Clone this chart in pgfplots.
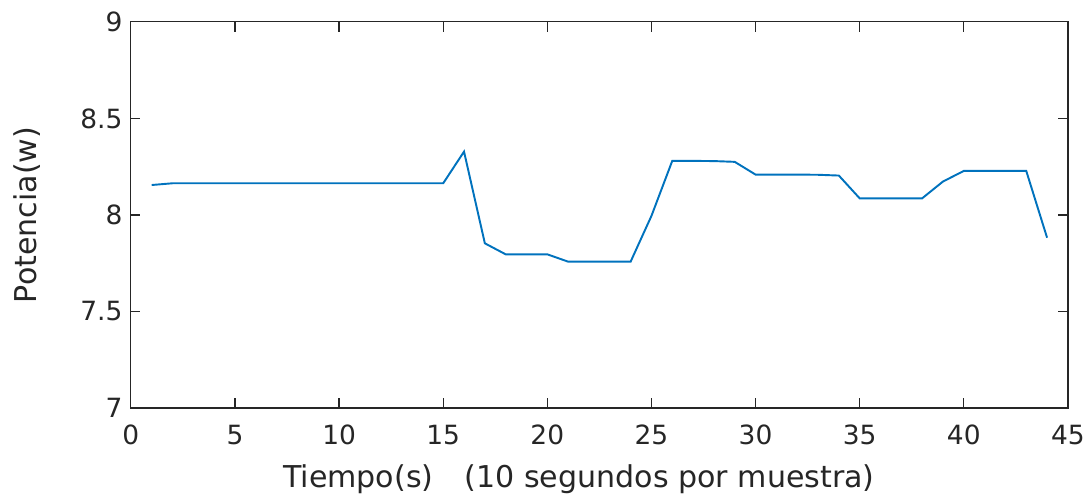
\documentclass[border=0pt]{standalone}
\usepackage{pgfplots}
\pgfplotsset{compat=1.18}
\usepackage{fontspec}
\setmainfont{DejaVu Sans}
\definecolor{mblue}{rgb}{0,0.447,0.741}
\definecolor{axgray}{rgb}{0.15,0.15,0.15}
\begin{document}
\begin{tikzpicture}
\begin{axis}[
  name=ax,
  scale only axis,
  width=389.5pt, height=160.5pt,
  xmin=0, xmax=45, ymin=7, ymax=9,
  xtick={0,5,...,45},
  ytick={7,7.5,8,8.5,9},
  yticklabels={7,7.5,8,8.5,9},
  tick align=inside,
  major tick length=4pt,
  axis line style={axgray, line width=0.5pt},
  every tick/.style={axgray, line width=0.5pt},
  tick label style={font=\fontsize{11}{13}\selectfont, text=axgray},
  xticklabel style={yshift=-3.5pt},
  label style={font=\fontsize{12.5}{14}\selectfont, text=axgray},
  /pgf/number format/assume math mode=true,
  xlabel={Tiempo(s)\hspace{13pt}(10 segundos por muestra)},
  ylabel={Potencia(w)},
  xlabel style={at={(axis description cs:0.5,0)}, anchor=center, yshift=-29.5pt, xshift=-8.5pt},
  ylabel style={at={(axis description cs:0,0.5)}, anchor=center, yshift=43.3pt},
]
\addplot[mblue, line width=0.8pt] coordinates {
(1,8.155) (2,8.164) (3,8.164) (4,8.164) (5,8.164) (6,8.164) (7,8.164) (8,8.164)
(9,8.164) (10,8.164) (11,8.164) (12,8.164) (13,8.164) (14,8.164) (15,8.164)
(16,8.328) (17,7.853) (18,7.796) (19,7.796) (20,7.796) (21,7.758) (22,7.758)
(23,7.758) (24,7.758) (25,7.995) (26,8.280) (27,8.280) (28,8.279) (29,8.275)
(30,8.209) (31,8.209) (32,8.209) (33,8.208) (34,8.204) (35,8.086) (36,8.086)
(37,8.086) (38,8.086) (39,8.173) (40,8.228) (41,8.228) (42,8.228) (43,8.228)
(44,7.882)
};
\end{axis}
\pgfresetboundingbox
\path (ax.south west) ++(-54.4pt,-38.2pt) rectangle ++(453.5pt,207.8pt);
\end{tikzpicture}
\end{document}
